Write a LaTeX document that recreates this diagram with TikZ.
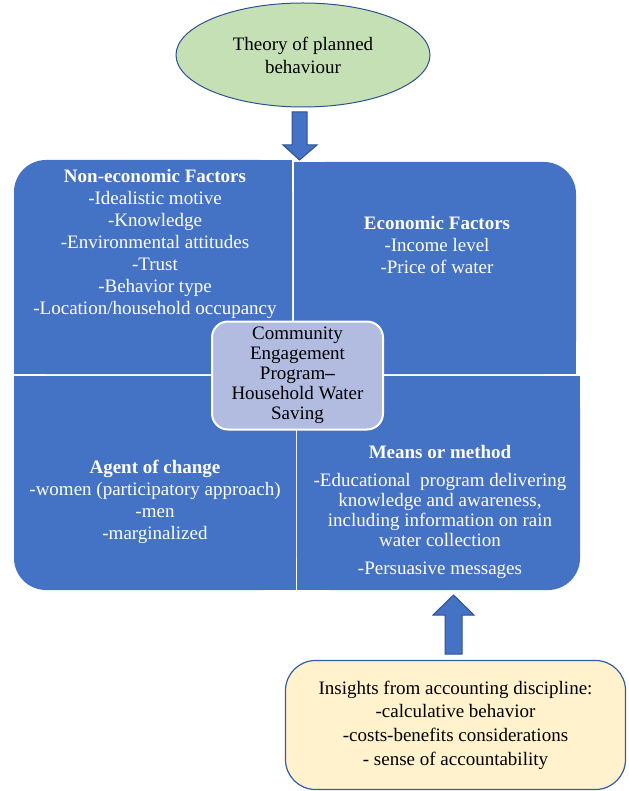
\documentclass[tikz,border=0pt]{standalone}
\usepackage{fontspec}
\setmainfont{Liberation Serif}
\usetikzlibrary{shapes.geometric,positioning}

\definecolor{qblue}{RGB}{68,114,196}
\definecolor{qedge}{RGB}{47,82,143}
\definecolor{tpbgreen}{RGB}{197,224,180}
\definecolor{hubfill}{RGB}{178,188,224}
\definecolor{insightfill}{RGB}{255,242,204}
\definecolor{insightedge}{RGB}{52,92,160}

\begin{document}
\begin{tikzpicture}[
	x=1pt, y=-1pt,
	quad/.style={fill=qblue},
	quadtext/.style={text=white, align=center, font=\fontsize{19}{22}\selectfont},
	theory/.style={ellipse, draw=qedge, line width=1pt, fill=tpbgreen, minimum width=254pt, minimum height=104pt, align=center, font=\fontsize{19}{23}\selectfont},
	hub/.style={rectangle, rounded corners=16pt, draw=white, line width=2pt, fill=hubfill, minimum width=171pt, minimum height=108pt, align=center, font=\fontsize{19}{20}\selectfont},
	insight/.style={rectangle, rounded corners=30pt, draw=insightedge, line width=1.2pt, fill=insightfill, minimum width=340pt, minimum height=129pt, align=center, font=\fontsize{19}{23.6}\selectfont},
	blockarrow/.style={fill=qblue, draw=qedge, line width=1pt, line join=miter}
	]
	
	\useasboundingbox (0,0) rectangle (628,791);
	
	% Theory node on top
	\node[theory] (tpb) at (303,55) {Theory of planned\\behaviour};
	
	% Four quadrants, each with one rounded outer corner
	\fill[quad, rounded corners=32pt] (14,160) rectangle (292,374);
	\fill[quad] (46,160) rectangle (292,374);
	\fill[quad] (14,192) rectangle (292,374);
	
	\fill[quad, rounded corners=32pt] (294,162) rectangle (576,374);
	\fill[quad] (294,162) rectangle (544,374);
	\fill[quad] (294,194) rectangle (576,374);
	
	\fill[quad, rounded corners=32pt] (14,376) rectangle (296,590);
	\fill[quad] (46,376) rectangle (296,590);
	\fill[quad] (14,376) rectangle (296,558);
	
	\fill[quad, rounded corners=32pt] (297,376) rectangle (580,590);
	\fill[quad] (297,376) rectangle (548,590);
	\fill[quad] (297,376) rectangle (580,558);
	
	% Quadrant texts
	\node[quadtext] (noneco) at (155,243.5) {\textbf{Non-economic Factors}\\-Idealistic motive\\-Knowledge\\-Environmental attitudes\\-Trust\\-Behavior type\\-Location/household occupancy};
	\node[quadtext] (eco) at (437,245) {\textbf{Economic Factors}\\-Income level\\-Price of water};
	\node[quadtext] (agent) at (155,502) {\textbf{Agent of change}\\-women (participatory approach)\\-men\\-marginalized};
	\node[quadtext, font=\fontsize{19}{20}\selectfont] (means) at (440,512) {\textbf{Means or method}\\[8pt]-Educational\ \ program delivering\\knowledge and awareness,\\including information on rain\\water collection\\[8pt]-Persuasive messages};
	
	% Programme in the middle
	\node[hub] (hub) at (297.5,375.5) {Community\\Engagement\\Program\textbf{--}\\Household Water\\Saving};
	
	% Insights box at the bottom right
	\node[insight] (insight) at (455.5,725) {Insights from accounting discipline:\\-calculative behavior\\-costs-benefits considerations\\- sense of accountability};
	
	% Block arrows
	\draw[blockarrow] (292,112) -- (307,112) -- (307,145) -- (317,145) -- (299.5,160) -- (283,145) -- (292,145) -- cycle;
	\draw[blockarrow] (445,654) -- (462,654) -- (462,615) -- (474,615) -- (453.5,595) -- (433,615) -- (445,615) -- cycle;
	
\end{tikzpicture}
\end{document}
